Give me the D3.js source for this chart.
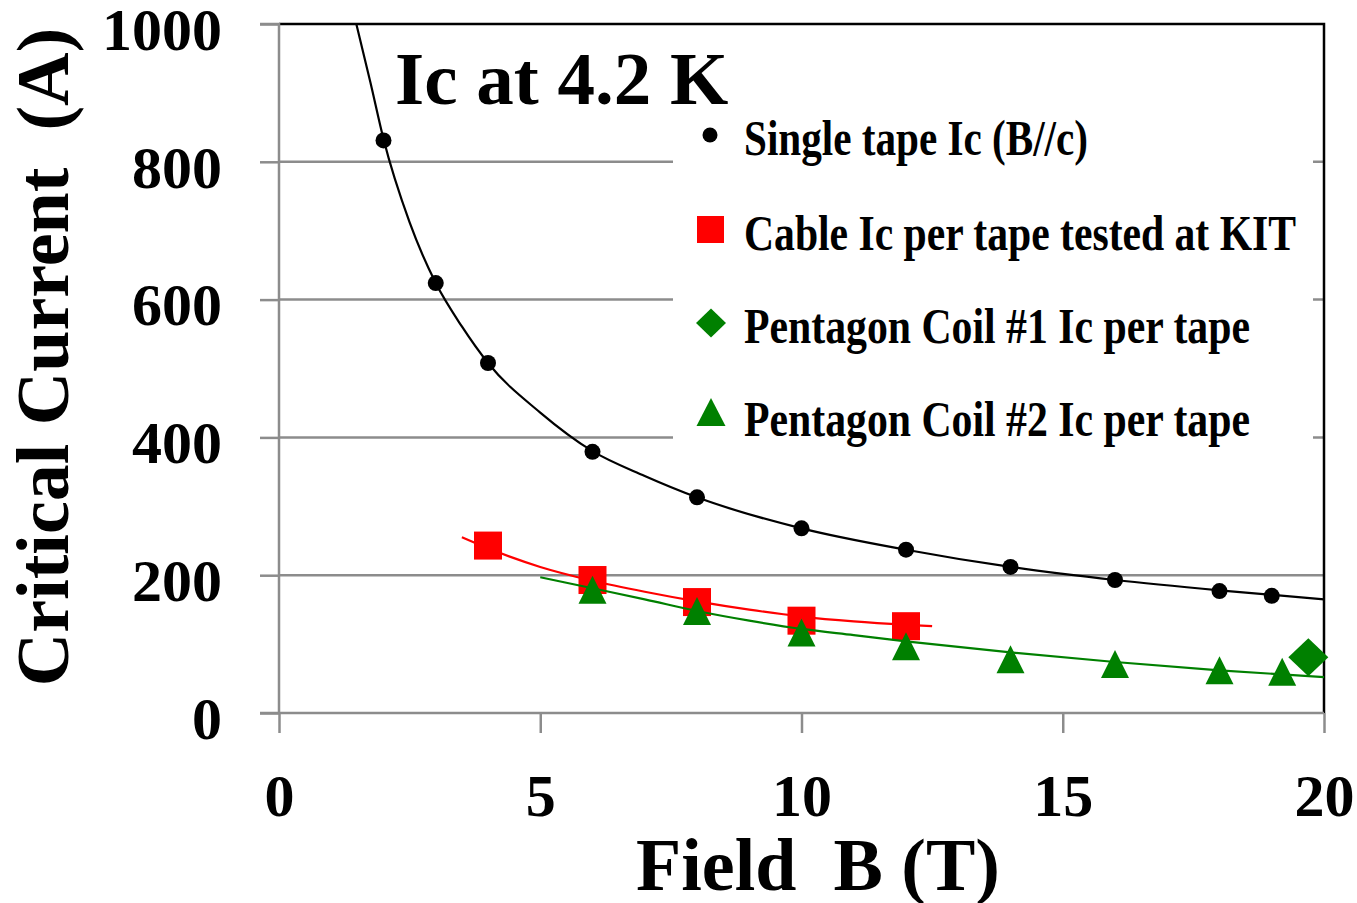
<!DOCTYPE html>
<html>
<head>
<meta charset="utf-8">
<script src="https://cdn.jsdelivr.net/npm/d3@7"></script>
<style>
body { margin: 0; background: #fff; }
text { font-family: "Liberation Serif", "Times New Roman", serif; font-weight: bold; }
</style>
</head>
<body>
<svg id="chart" width="1357" height="903"></svg>
<script>
// measured points
var tapeB = [2, 3, 4, 6, 8, 10, 12, 14, 16, 18, 19];
var tapeIc = [831, 624, 508, 379, 313, 268, 237, 212, 193, 177, 170];

var cableB = [4, 6, 8, 10, 12];
var cableIc = [243, 193, 161, 134, 126];

var coil1B = [19.7];
var coil1Ic = [81];

var coil2B = [6, 8, 10, 12, 14, 16, 18, 19.2];
var coil2Ic = [179, 148, 117, 97, 78, 71, 62, 60];

// trend lines
var tapeFitB = [1.48, 1.75, 2, 2.5, 3, 3.5, 4, 5, 6, 7, 8, 10, 12, 14, 16, 18, 20];
var tapeFitIc = [1000, 915, 833, 712, 624, 561, 508, 436, 380, 344, 313, 268, 237, 212, 193, 178, 165];
var cableFitB = [3.5, 4, 5, 6, 7, 8, 9, 10, 11, 12, 12.5];
var cableFitIc = [255, 239, 212, 192, 176, 162, 150, 140, 133, 128, 126];
var coil2FitB = [5, 6, 7, 8, 9, 10, 11, 12, 14, 16, 18, 20];
var coil2FitIc = [197, 181, 165, 148, 134, 122, 113, 104, 88, 74, 62, 52];

var xTicks = [0, 5, 10, 15, 20];
var yTicks = [0, 200, 400, 600, 800, 1000];

var legendNames = ["Single tape Ic (B//c)", "Cable Ic per tape tested at KIT",
    "Pentagon Coil #1 Ic per tape", "Pentagon Coil #2 Ic per tape"];

var zip = function(xs, ys) {
    return xs.map(function(d, i) { return {B: d, Ic: ys[i]}; });
};

var svg = d3.select("#chart");
var plotLeft = 279, plotRight = 1324, plotTop = 24, plotBottom = 713;

var xScale = d3.scaleLinear().domain([0, 20]).range([plotLeft, plotRight]);
var yScale = d3.scaleLinear().domain([0, 1000]).range([plotBottom, plotTop]);

var grey = "#8c8c8c";

// grid
svg.append("g").selectAll("line")
    .data(yTicks.filter(function(d) { return d > 0 && d < 1000; }))
    .enter().append("line")
    .attr("x1", plotLeft).attr("x2", plotRight)
    .attr("y1", function(d) { return yScale(d); })
    .attr("y2", function(d) { return yScale(d); })
    .attr("stroke", grey).attr("stroke-width", 2.5);

// legend box covers the grid
svg.append("rect")
    .attr("x", 673).attr("y", 108)
    .attr("width", 640).attr("height", 350)
    .attr("fill", "#fff");

// frame top/right
svg.append("path")
    .attr("d", "M" + plotLeft + "," + plotTop + "H" + plotRight + "V" + plotBottom)
    .attr("fill", "none").attr("stroke", "#000").attr("stroke-width", 2.5);

// axes
var yAxis = d3.axisLeft(yScale).tickValues(yTicks).tickFormat(d3.format("d")).tickSize(19).tickPadding(38);
var xAxis = d3.axisBottom(xScale).tickValues(xTicks).tickFormat(d3.format("d")).tickSize(20).tickPadding(40);

var gy = svg.append("g").attr("transform", "translate(" + plotLeft + ",0)").call(yAxis);
var gx = svg.append("g").attr("transform", "translate(0," + plotBottom + ")").call(xAxis);

[gx, gy].forEach(function(g) {
    g.select(".domain").attr("stroke", grey).attr("stroke-width", 2.5);
    g.selectAll(".tick line").attr("stroke", grey).attr("stroke-width", 2.5);
    g.selectAll(".tick text")
        .attr("fill", "#000")
        .style("font-size", "60px")
        .style("font-family", "'Liberation Serif', serif")
        .style("font-weight", "bold");
});
gy.select(".domain").attr("d", "M-19," + plotTop + "H0V" + plotBottom);
gy.selectAll(".tick text").attr("dy", "0.42em");
gx.select(".domain").attr("d", "M" + (plotLeft - 19) + ",0H" + plotRight);
gx.selectAll(".tick text").attr("y", 61).attr("dy", "0.7em");

// fit lines
var line = d3.line()
    .x(function(d) { return xScale(d.B); })
    .y(function(d) { return yScale(d.Ic); })
    .curve(d3.curveMonotoneX);

var drawFit = function(data, color) {
    svg.append("path")
        .datum(data)
        .attr("d", line)
        .attr("fill", "none")
        .attr("stroke", color)
        .attr("stroke-width", 2.2);
};

drawFit(zip(tapeFitB, tapeFitIc), "#000");

svg.append("g").selectAll("circle")
    .data(zip(tapeB, tapeIc))
    .enter().append("circle")
    .attr("cx", function(d) { return xScale(d.B); })
    .attr("cy", function(d) { return yScale(d.Ic); })
    .attr("r", 8)
    .attr("fill", "#000");

drawFit(zip(cableFitB, cableFitIc), "#ff0000");

svg.append("g").selectAll("rect")
    .data(zip(cableB, cableIc))
    .enter().append("rect")
    .attr("x", function(d) { return xScale(d.B) - 14; })
    .attr("y", function(d) { return yScale(d.Ic) - 14; })
    .attr("width", 28).attr("height", 28)
    .attr("fill", "#ff0000");

drawFit(zip(coil2FitB, coil2FitIc), "#008000");

var triangle = function(w, h) {
    return "M0," + (-h / 2) + "L" + (w / 2) + "," + (h / 2) + "L" + (-w / 2) + "," + (h / 2) + "Z";
};
var diamond = function(w, h) {
    return "M0," + (-h / 2) + "L" + (w / 2) + ",0L0," + (h / 2) + "L" + (-w / 2) + ",0Z";
};

svg.append("g").selectAll("path")
    .data(zip(coil2B, coil2Ic))
    .enter().append("path")
    .attr("transform", function(d) { return "translate(" + xScale(d.B) + "," + yScale(d.Ic) + ")"; })
    .attr("d", triangle(28, 28))
    .attr("fill", "#008000");

svg.append("g").selectAll("path")
    .data(zip(coil1B, coil1Ic))
    .enter().append("path")
    .attr("transform", function(d) { return "translate(" + xScale(d.B) + "," + yScale(d.Ic) + ")"; })
    .attr("d", diamond(40, 38))
    .attr("fill", "#008000");

// labels
svg.append("text")
    .text("Ic at 4.2 K")
    .attr("x", 395).attr("y", 104)
    .style("font-size", "75px");

svg.append("text")
    .text("Field  B (T)")
    .attr("text-anchor", "middle")
    .attr("x", 818).attr("y", 890)
    .style("font-size", "74px")
    .style("white-space", "pre");

svg.append("text")
    .text("Critical Current  (A)")
    .attr("text-anchor", "middle")
    .attr("transform", "translate(68,357) rotate(-90)")
    .style("font-size", "74px")
    .style("white-space", "pre");

// legend
var legendRows = [
    {name: legendNames[0], y: 155, len: 344, mark: "circle"},
    {name: legendNames[1], y: 250, len: 552, mark: "square"},
    {name: legendNames[2], y: 343, len: 506, mark: "diamond"},
    {name: legendNames[3], y: 436, len: 506, mark: "triangle"}
];
var legend = svg.append("g");
legendRows.forEach(function(r) {
    var cy = r.y - 20;
    if (r.mark === "circle") {
        legend.append("circle").attr("cx", 710).attr("cy", cy).attr("r", 7.5).attr("fill", "#000");
    } else if (r.mark === "square") {
        legend.append("rect").attr("x", 697).attr("y", cy - 14).attr("width", 27).attr("height", 27).attr("fill", "#ff0000");
    } else if (r.mark === "diamond") {
        legend.append("path").attr("transform", "translate(711," + cy + ")").attr("d", diamond(30, 29)).attr("fill", "#008000");
    } else {
        legend.append("path").attr("transform", "translate(711," + (cy - 4) + ")").attr("d", triangle(29, 28)).attr("fill", "#008000");
    }
    legend.append("text")
        .text(r.name)
        .attr("x", 744).attr("y", r.y)
        .attr("textLength", r.len)
        .attr("lengthAdjust", "spacingAndGlyphs")
        .style("font-size", "50px");
});
</script>
</body>
</html>
